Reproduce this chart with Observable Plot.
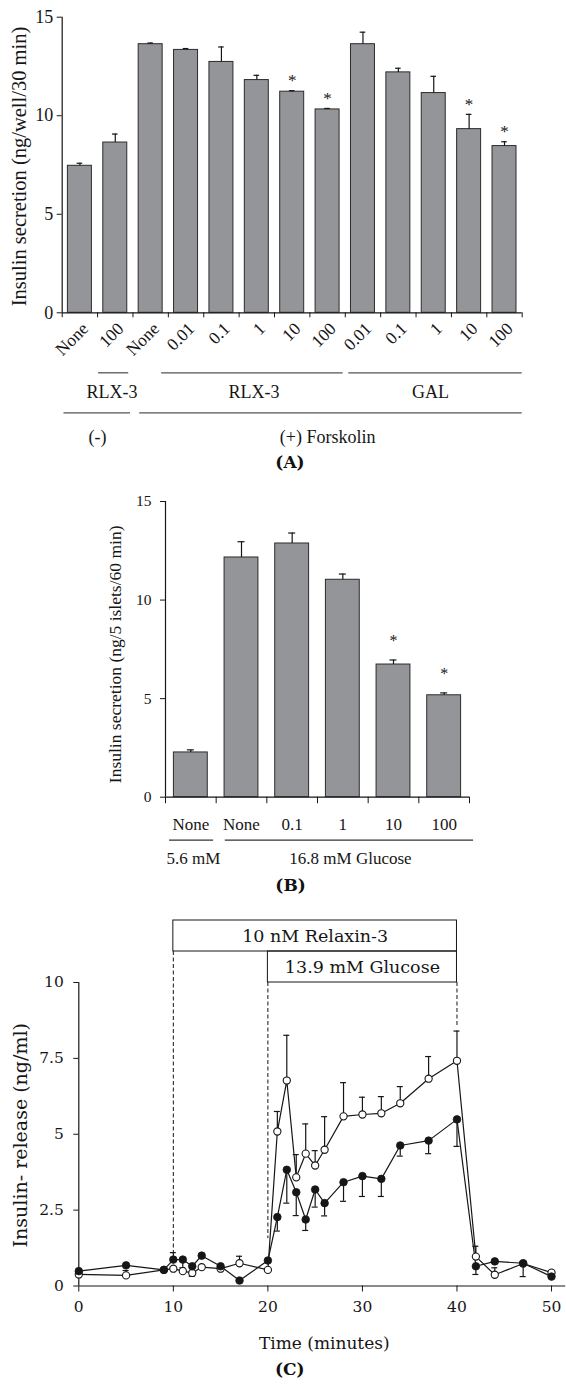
<!DOCTYPE html>
<html>
<head>
<meta charset="utf-8">
<script src="https://cdn.jsdelivr.net/npm/d3@7"></script>
<script src="https://cdn.jsdelivr.net/npm/@observablehq/plot@0.6"></script>
<style>
html,body{margin:0;padding:0;background:#fff;}
#wrap{position:relative;width:566px;height:1384px;overflow:hidden;background:#fff;}
.cap{position:absolute;white-space:nowrap;line-height:1;transform:translate(-50%,-50%);font-weight:bold;color:#111;}
</style>
</head>
<body>
<div id="wrap"></div>
<script>
// ---------------- Panel A data ----------------
const aLabels = ["None","100","None","0.01","0.1","1","10","100","0.01","0.1","1","10","100"];
const aValues = [7.46,8.64,13.63,13.34,12.73,11.81,11.22,10.32,13.63,12.20,11.15,9.32,8.46];
const aSem = [0.13,0.43,0.06,0.07,0.76,0.24,0.05,0.05,0.61,0.21,0.85,0.75,0.22];
const aSignificant = [0,0,0,0,0,0,1,1,0,0,0,1,1];
const aTicksY = [0,5,10,15];
const aTitle = "Insulin secretion (ng/well/30 min)";
const aRow1Labels = ["RLX-3","RLX-3","GAL"];
const aRow1Start = [1.03,2.81,8.1];
const aRow1End = [1.88,7.94,13];
const aRow1Center = [1.41,5.42,10.41];
const aRow2Labels = ["(-)","(+) Forskolin"];
const aRow2Start = [0.05,2.19];
const aRow2End = [1.93,13];
const aRow2Center = [1.0,7.5];

// ---------------- Panel B data ----------------
const bLabels = ["None","None","0.1","1","10","100"];
const bValues = [2.27,12.16,12.87,11.03,6.73,5.17];
const bSem = [0.13,0.80,0.53,0.29,0.23,0.12];
const bSignificant = [0,0,0,0,1,1];
const bTicksY = [0,5,10,15];
const bTitle = "Insulin secretion (ng/5 islets/60 min)";
const bGroupLabels = ["5.6 mM","16.8 mM Glucose"];
const bGroupStart = [0.08,1.18];
const bGroupEnd = [0.95,6.08];
const bGroupCenter = [0.55,3.65];

// ---------------- Panel C data ----------------
const cTime = [0,5,9,10,11,12,13,15,17,20,21,22,23,24,25,26,28,30,32,34,37,40,42,44,47,50];
const cFilled = [0.49,0.68,0.53,0.87,0.87,0.65,1.00,0.65,0.18,0.84,2.27,3.83,3.09,2.19,3.18,2.73,3.42,3.62,3.53,4.63,4.79,5.49,0.65,0.81,0.75,0.31];
const cFilledErr = [null,null,null,1.1,0.6,null,null,null,null,null,1.81,2.73,2.32,1.83,2.6,2.31,2.79,2.95,2.95,4.28,4.36,4.6,0.38,null,0.31,null];
const cOpen = [0.38,0.35,0.53,0.57,0.49,0.43,0.62,0.57,0.75,0.53,5.09,6.77,3.58,4.36,3.97,4.49,5.59,5.65,5.69,6.02,6.83,7.42,0.97,0.37,0.74,0.44];
const cOpenErr = [null,0.51,null,null,null,0.32,null,null,0.98,null,5.75,8.26,4.33,5.34,4.46,5.58,6.70,6.22,6.24,6.57,7.56,8.40,1.31,0.6,null,null];
const cTicksX = [0,10,20,30,40,50];
const cTicksY = [0,2.5,5,7.5,10];
const cXTitle = "Time (minutes)";
const cYTitle = "Insulin- release (ng/ml)";
const cTreatLabels = ["10 nM Relaxin-3","13.9 mM Glucose"];
const cTreatStart = [10,20];
const cTreatEnd = [40,40];
const cMarkTime = [10,20,40];
const cMarkRow = [0,1,1];
const cMarkEnd = [0.97,1.56,8.5];

const captions = ["(A)","(B)","(C)"];

// ---------------- helpers ----------------
const wrap = document.getElementById("wrap");
const serif = "'Liberation Serif','Times New Roman',Times,serif";
const dserif = "'DejaVu Serif',serif";
const ink = "#161616";
function place(svg, top) {
  svg.style.position = "absolute";
  svg.style.left = "0px";
  svg.style.top = top + "px";
  wrap.appendChild(svg);
}
function caption(text, cx, cy, size, family) {
  const d = document.createElement("div");
  d.className = "cap";
  d.textContent = text;
  d.style.left = cx + "px";
  d.style.top = cy + "px";
  d.style.fontSize = size + "px";
  d.style.fontFamily = family;
  wrap.appendChild(d);
}

// ---------------- Panel A ----------------
const dataA = aLabels.map((label, i) => ({i, label, value: aValues[i], top: aValues[i] + aSem[i], sig: aSignificant[i]}));
const rowA1 = aRow1Labels.map((label, k) => ({label, start: aRow1Start[k], end: aRow1End[k], center: aRow1Center[k]}));
const rowA2 = aRow2Labels.map((label, k) => ({label, start: aRow2Start[k], end: aRow2End[k], center: aRow2Center[k]}));
const hA = 450;
const plotA = Plot.plot({
  width: 566, height: hA,
  marginTop: 16.7, marginBottom: hA - 312.3, marginLeft: 61.7, marginRight: 566 - 521.7,
  x: {domain: [0, aLabels.length], axis: null},
  y: {domain: [0, 15], axis: null},
  style: {fontFamily: serif, fontSize: "18px", color: ink, background: "transparent", overflow: "visible"},
  marks: [
    Plot.rect(dataA, {x1: "i", x2: d => d.i + 1, y1: () => 0, y2: "value", insetLeft: 5.7, insetRight: 5.7, fill: "#939598", stroke: "#2b2b2b", strokeWidth: 1}),
    Plot.ruleX(dataA, {x: d => d.i + 0.5, y1: "value", y2: "top", stroke: ink, strokeWidth: 1.2}),
    Plot.ruleY(dataA, {y: "top", x1: d => d.i + 0.5, x2: d => d.i + 0.5, insetLeft: -2.8, insetRight: -2.8, stroke: ink, strokeWidth: 1.2}),
    Plot.text(dataA.filter(d => d.sig), {x: d => d.i + 0.5, y: "top", text: () => "*", dy: -10, fontSize: 17, lineAnchor: "middle"}),
    Plot.ruleX([0], {stroke: ink, strokeWidth: 1.2}),
    Plot.ruleY([0], {stroke: ink, strokeWidth: 1.2}),
    Plot.axisY({ticks: aTicksY, tickSize: 5, tickPadding: 4, fontSize: 18, label: null}),
    Plot.axisX({ticks: d3.range(0, aLabels.length + 1), tickSize: 5, tickFormat: () => "", label: null}),
    Plot.text(dataA, {x: d => d.i + 0.5, text: "label", frameAnchor: "bottom", rotate: -45, textAnchor: "end", lineAnchor: "middle", dx: 5.5, dy: 13, fontSize: 17.5}),
    Plot.ruleY(rowA1, {y: () => 0, x1: "start", x2: "end", dy: 60, stroke: "#555", strokeWidth: 1.3}),
    Plot.text(rowA1, {x: "center", y: () => 0, text: "label", dy: 79.4, fontSize: 18, lineAnchor: "middle"}),
    Plot.ruleY(rowA2, {y: () => 0, x1: "start", x2: "end", dy: 100, stroke: "#555", strokeWidth: 1.3}),
    Plot.text(rowA2, {x: "center", y: () => 0, text: "label", dy: 124.7, fontSize: 18, lineAnchor: "middle"}),
    Plot.text([aTitle], {text: d => d, frameAnchor: "left", rotate: -90, textAnchor: "middle", lineAnchor: "middle", dx: -42.5, dy: 1.5, fontSize: 20.5})
  ]
});
place(plotA, 0);
caption(captions[0], 290, 461.7, 17, dserif);

// ---------------- Panel B ----------------
const dataB = bLabels.map((label, i) => ({i, label, value: bValues[i], top: bValues[i] + bSem[i], sig: bSignificant[i]}));
const groupsB = bGroupLabels.map((label, k) => ({label, start: bGroupStart[k], end: bGroupEnd[k], center: bGroupCenter[k]}));
const topB = 480, hB = 400;
const plotB = Plot.plot({
  width: 566, height: hB,
  marginTop: 501 - topB, marginBottom: hB - (796.7 - topB), marginLeft: 165, marginRight: 566 - 469,
  x: {domain: [0, bLabels.length], axis: null},
  y: {domain: [0, 15], axis: null},
  style: {fontFamily: serif, fontSize: "16px", color: ink, background: "transparent", overflow: "visible"},
  marks: [
    Plot.rect(dataB, {x1: "i", x2: d => d.i + 1, y1: () => 0, y2: "value", insetLeft: 8.4, insetRight: 8.4, fill: "#939598", stroke: "#2b2b2b", strokeWidth: 1}),
    Plot.ruleX(dataB, {x: d => d.i + 0.5, y1: "value", y2: "top", stroke: ink, strokeWidth: 1.2}),
    Plot.ruleY(dataB, {y: "top", x1: d => d.i + 0.5, x2: d => d.i + 0.5, insetLeft: -3.5, insetRight: -3.5, stroke: ink, strokeWidth: 1.2}),
    Plot.text(dataB.filter(d => d.sig), {x: d => d.i + 0.5, y: "top", text: () => "*", dy: -19, fontSize: 16, lineAnchor: "middle"}),
    Plot.ruleX([0], {stroke: ink, strokeWidth: 1.2}),
    Plot.ruleY([0], {stroke: ink, strokeWidth: 1.2}),
    Plot.axisY({ticks: bTicksY, tickSize: 5, tickPadding: 9, fontSize: 15.5, label: null}),
    Plot.axisX({ticks: d3.range(0, bLabels.length + 1), tickSize: 6.5, tickFormat: () => "", label: null}),
    Plot.text(dataB, {x: d => d.i + 0.5, text: "label", frameAnchor: "bottom", lineAnchor: "middle", textAnchor: "middle", dy: 27.6, fontSize: 17}),
    Plot.ruleY(groupsB, {y: () => 0, x1: "start", x2: "end", dy: 43, stroke: "#333", strokeWidth: 1.3}),
    Plot.text(groupsB, {x: "center", y: () => 0, text: "label", dy: 61.6, fontSize: 17, lineAnchor: "middle"}),
    Plot.text([bTitle], {text: d => d, frameAnchor: "left", rotate: -90, textAnchor: "middle", lineAnchor: "middle", dx: -50.5, dy: 5, fontSize: 17.5})
  ]
});
place(plotB, topB);
caption(captions[1], 290.6, 885, 17, dserif);

// ---------------- Panel C ----------------
const filledC = cTime.map((t, i) => ({t, v: cFilled[i], e: cFilledErr[i]}));
const openC = cTime.map((t, i) => ({t, v: cOpen[i], e: cOpenErr[i]}));
const marksC = cMarkTime.map((t, k) => ({t, row: cMarkRow[k], end: cMarkEnd[k]}));
const topC = 900, hC = 470;
const boxH = 31;
const boxMarks = cTreatLabels.flatMap((label, k) => {
  const d = [{label, start: cTreatStart[k], end: cTreatEnd[k]}];
  const shift = -boxH * (cTreatLabels.length - 1 - k);
  return [
    Plot.rect(d, {x1: "start", x2: "end", y1: () => 10, y2: () => 10, insetTop: -boxH, dy: shift, fill: "none", stroke: ink, strokeWidth: 1}),
    Plot.text(d, {x: d => (d.start + d.end) / 2, y: () => 10, text: "label", dy: shift - boxH / 2, fontSize: 17.5, lineAnchor: "middle", textAnchor: "middle"})
  ];
});
const plotC = Plot.plot({
  width: 566, height: hC,
  marginTop: 982 - topC, marginBottom: hC - (1285.5 - topC), marginLeft: 78.3, marginRight: 566 - 565.2,
  x: {domain: [0, 51.5], axis: null},
  y: {domain: [0, 10], axis: null},
  style: {fontFamily: dserif, fontSize: "15.5px", color: ink, background: "transparent", overflow: "visible"},
  marks: [
    ...boxMarks,
    Plot.ruleX(marksC.filter(d => d.row === 0), {x: "t", y1: () => 10, y2: "end", insetTop: -boxH, stroke: ink, strokeWidth: 1, strokeDasharray: "4,2.5"}),
    Plot.ruleX(marksC.filter(d => d.row === 1), {x: "t", y1: () => 10, y2: "end", stroke: ink, strokeWidth: 1, strokeDasharray: "4,2.5"}),
    Plot.ruleX([0], {stroke: ink, strokeWidth: 1.2}),
    Plot.ruleY([0], {stroke: ink, strokeWidth: 1.2}),
    Plot.axisY({ticks: cTicksY, tickSize: 5, tickPadding: 10, tickFormat: d => String(d), fontSize: 15.5, label: null}),
    Plot.axisX({ticks: cTicksX, tickSize: 6, tickFormat: () => "", label: null}),
    Plot.text(cTicksX, {x: d => d, text: d => String(d), frameAnchor: "bottom", lineAnchor: "middle", textAnchor: "middle", dy: 21.5, fontSize: 15.5}),
    Plot.text([cXTitle], {text: d => d, frameAnchor: "bottom", lineAnchor: "middle", textAnchor: "middle", dx: 2, dy: 58, fontSize: 17}),
    Plot.text([cYTitle], {text: d => d, frameAnchor: "left", rotate: -90, textAnchor: "middle", lineAnchor: "middle", dx: -58.3, dy: 1, fontSize: 19}),
    Plot.line(openC, {x: "t", y: "v", stroke: ink, strokeWidth: 1.2}),
    Plot.line(filledC, {x: "t", y: "v", stroke: ink, strokeWidth: 1.2}),
    Plot.ruleX(openC.filter(d => d.e != null), {x: "t", y1: "v", y2: "e", stroke: ink, strokeWidth: 1.2}),
    Plot.ruleY(openC.filter(d => d.e != null), {y: "e", x1: "t", x2: "t", insetLeft: -3, insetRight: -3, stroke: ink, strokeWidth: 1.2}),
    Plot.ruleX(filledC.filter(d => d.e != null), {x: "t", y1: "v", y2: "e", stroke: ink, strokeWidth: 1.2}),
    Plot.ruleY(filledC.filter(d => d.e != null), {y: "e", x1: "t", x2: "t", insetLeft: -3, insetRight: -3, stroke: ink, strokeWidth: 1.2}),
    Plot.dot(openC, {x: "t", y: "v", r: 3.6, fill: "white", stroke: ink, strokeWidth: 1.1}),
    Plot.dot(filledC, {x: "t", y: "v", r: 3.8, fill: ink, stroke: ink, strokeWidth: 0.8})
  ]
});
place(plotC, topC);
caption(captions[2], 289.7, 1369, 17, dserif);
</script>
</body>
</html>
